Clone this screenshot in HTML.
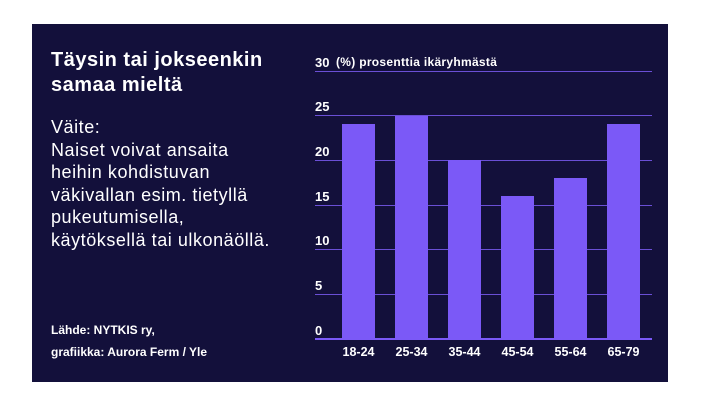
<!DOCTYPE html>
<html><head><meta charset="utf-8"><style>
body{margin:0;width:707px;height:406px;background:#fff;position:relative;overflow:hidden;font-family:"Liberation Sans",sans-serif}
.p{position:absolute;left:32px;top:24px;width:636px;height:358px;background:#13103b}
.t{position:absolute;color:#fff;white-space:nowrap}
</style></head><body>
<div class="p"></div>
<div class="t" style="left:51px;top:48px;font-size:20px;font-weight:bold;line-height:25px;letter-spacing:0.5px">Täysin tai jokseenkin<br>samaa mieltä</div>
<div class="t" style="left:51px;top:116px;font-size:18px;line-height:22.6px;letter-spacing:0.55px">Väite:<br>Naiset voivat ansaita<br>heihin kohdistuvan<br>väkivallan esim. tietyllä<br>pukeutumisella,<br>käytöksellä tai ulkonäöllä.</div>
<div class="t" style="left:51px;top:319px;font-size:12px;font-weight:bold;line-height:22px">Lähde: NYTKIS ry,<br>grafiikka: Aurora Ferm / Yle</div>
<svg style="position:absolute;left:0;top:0" width="707" height="406" font-family="Liberation Sans,sans-serif" font-weight="bold" fill="#fff">
<g stroke="#6a4fd6" stroke-width="1">
<line x1="315" x2="652" y1="71.5" y2="71.5"/><line x1="315" x2="652" y1="115.5" y2="115.5"/><line x1="315" x2="652" y1="160.5" y2="160.5"/><line x1="315" x2="652" y1="205.5" y2="205.5"/><line x1="315" x2="652" y1="249.5" y2="249.5"/><line x1="315" x2="652" y1="294.5" y2="294.5"/>
</g>
<g fill="#7b59f7">
<rect x="342" y="124" width="33" height="215"/><rect x="395" y="116" width="33" height="223"/><rect x="448" y="160" width="33" height="179"/><rect x="501" y="196" width="33" height="143"/><rect x="554" y="178" width="33" height="161"/><rect x="607" y="124" width="33" height="215"/>
</g>
<rect x="315" y="338" width="337" height="2" fill="#7b59f7"/>
<g font-size="13">
<text x="315" y="67">30</text><text x="315" y="111">25</text><text x="315" y="156">20</text><text x="315" y="201">15</text><text x="315" y="245">10</text><text x="315" y="290">5</text><text x="315" y="335">0</text>
</g>
<text x="336" y="66" font-size="12" letter-spacing="0.3">(%) prosenttia ikäryhmästä</text>
<g font-size="12.5" text-anchor="middle">
<text x="358.5" y="356">18-24</text><text x="411.5" y="356">25-34</text><text x="464.5" y="356">35-44</text><text x="517.5" y="356">45-54</text><text x="570.5" y="356">55-64</text><text x="623.5" y="356">65-79</text>
</g>
</svg>
</body></html>
